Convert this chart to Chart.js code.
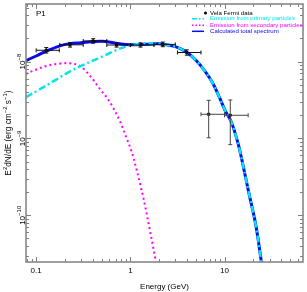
<!DOCTYPE html>
<html>
<head>
<meta charset="utf-8">
<script src="https://cdn.jsdelivr.net/npm/chart.js@4"></script>
<style>
  html, body { margin: 0; padding: 0; background: #fff; }
  canvas { display: block; }
</style>
</head>
<body>
<canvas id="sed" width="307" height="292"></canvas>
<script>
// Vela Fermi data (E in GeV, E^2 dN/dE in erg cm^-2 s^-1)
const dataE    = [0.128, 0.229, 0.403, 0.713, 1.28, 2.21, 3.97, 6.78, 11.5];
const dataF    = [1.40e-8, 1.65e-8, 1.85e-8, 1.64e-8, 1.64e-8, 1.67e-8, 1.31e-8, 2.06e-9, 2.0e-9];
const dataFlo  = [1.29e-8, 1.54e-8, 1.73e-8, 1.54e-8, 1.54e-8, 1.56e-8, 1.21e-8, 1.02e-9, 8.3e-10];
const dataFhi  = [1.52e-8, 1.77e-8, 1.98e-8, 1.75e-8, 1.75e-8, 1.79e-8, 1.42e-8, 3.13e-9, 3.16e-9];
const dataElo  = [0.1, 0.178, 0.316, 0.562, 1.0, 1.78, 3.16, 5.62, 10.0];
const dataEhi  = [0.176, 0.316, 0.562, 1.0, 1.78, 3.0, 5.62, 10.0, 17.8];

// model curves
const totalE = [0.078, 0.1, 0.13, 0.2, 0.3, 0.5, 0.7, 1.0, 1.5, 2.0, 3.0, 4.0, 5.0, 6.1, 7.4, 8.8, 10.3, 11.5, 12.6, 14.3, 18.2, 21.5, 24.6, 26];
const totalF = [1.03e-8, 1.18e-8, 1.38e-8, 1.66e-8, 1.76e-8, 1.84e-8, 1.73e-8, 1.65e-8, 1.68e-8, 1.70e-8, 1.56e-8, 1.31e-8, 1.03e-8, 7.66e-9, 5.37e-9, 3.44e-9, 2.21e-9, 1.75e-9, 1.3e-9, 7.5e-10, 1.9e-10, 7.35e-11, 2.45e-11, 1.5e-11];

const primE = [0.078, 0.11, 0.165, 0.229, 0.292, 0.403, 0.558, 0.771, 1.07, 1.48, 2.0, 3.0, 4.0, 5.0, 6.1, 7.4, 8.8, 10.3, 11.5, 12.6, 14.3, 18.2, 21.5, 24.6, 26];
const primF = [3.45e-9, 4.37e-9, 5.87e-9, 7.44e-9, 8.63e-9, 1.03e-8, 1.23e-8, 1.47e-8, 1.65e-8, 1.73e-8, 1.70e-8, 1.56e-8, 1.31e-8, 1.03e-8, 7.66e-9, 5.37e-9, 3.44e-9, 2.21e-9, 1.75e-9, 1.3e-9, 7.5e-10, 1.9e-10, 7.35e-11, 2.45e-11, 1.5e-11];

const secE = [0.078, 0.0936, 0.13, 0.18, 0.229, 0.292, 0.33, 0.403, 0.474, 0.558, 0.656, 0.771, 0.871, 1.03, 1.16, 1.26, 1.36, 1.48, 1.6, 1.73, 1.84, 1.95];
const secF = [6.9e-9, 7.6e-9, 8.8e-9, 9.4e-9, 9.5e-9, 8.8e-9, 7.7e-9, 5.8e-9, 4.41e-9, 3.44e-9, 2.51e-9, 1.70e-9, 1.17e-9, 6.76e-10, 3.98e-10, 2.65e-10, 1.79e-10, 1.09e-10, 6.67e-11, 4.07e-11, 2.74e-11, 1.7e-11];

// axes
const xMin = 0.078, xMax = 68;
const yMin = 2.47e-11, yMax = 5.6e-8;
const xMajor = [0.1, 1, 10];
const xMajorLabels = ['0.1', '1', '10'];
const yMajor = [1e-10, 1e-9, 1e-8];
const yMajorExp = ['\u221210', '\u22129', '\u22128'];

const FONT = "'Liberation Sans', Arial, sans-serif";
const colors = {
  data: '#000000',
  primary: '#00e5ee',
  secondary: '#ff00ff',
  total: '#0a0aee',
  axis: '#808080',
};

const pts = (xs, ys) => xs.map((x, i) => ({ x, y: ys[i] }));

function minorTicks(lo, hi) {
  const out = [];
  for (let d = Math.floor(Math.log10(lo)); d <= Math.ceil(Math.log10(hi)); d++) {
    for (let m = 1; m <= 9; m++) {
      const v = m * Math.pow(10, d);
      if (v >= lo && v <= hi) out.push({ v, major: m === 1 });
    }
  }
  return out;
}

const framePlugin = {
  id: 'frame',
  afterDatasetsDraw(chart) {
    const { ctx, scales: { x, y } } = chart;

    // error bars
    ctx.save();
    ctx.lineWidth = 1;
    dataE.forEach((e, i) => {
      ctx.strokeStyle = i >= 7 ? '#444' : '#111';
      const px = x.getPixelForValue(e), py = y.getPixelForValue(dataF[i]);
      const x0 = x.getPixelForValue(dataElo[i]), x1 = x.getPixelForValue(dataEhi[i]);
      const y0 = y.getPixelForValue(dataFlo[i]), y1 = y.getPixelForValue(dataFhi[i]);
      ctx.beginPath();
      ctx.moveTo(x0, py); ctx.lineTo(x1, py);
      ctx.moveTo(x0, py - 2); ctx.lineTo(x0, py + 2);
      ctx.moveTo(x1, py - 2); ctx.lineTo(x1, py + 2);
      ctx.moveTo(px, y0); ctx.lineTo(px, y1);
      ctx.moveTo(px - 2, y0); ctx.lineTo(px + 2, y0);
      ctx.moveTo(px - 2, y1); ctx.lineTo(px + 2, y1);
      ctx.stroke();
    });
    ctx.restore();
  },
  afterDraw(chart) {
    const { ctx, chartArea: a, scales: { x, y } } = chart;
    ctx.save();

    // frame
    ctx.strokeStyle = colors.axis;
    ctx.lineWidth = 1.5;
    ctx.strokeRect(a.left, a.top, a.right - a.left, a.bottom - a.top);

    // inward ticks on all four sides
    ctx.lineWidth = 1;
    ctx.beginPath();
    minorTicks(xMin, xMax).forEach(t => {
      const px = Math.round(x.getPixelForValue(t.v)) + 0.5;
      const len = t.major ? 5 : 3;
      ctx.moveTo(px, a.bottom); ctx.lineTo(px, a.bottom - len);
      ctx.moveTo(px, a.top); ctx.lineTo(px, a.top + len);
    });
    minorTicks(yMin, yMax).forEach(t => {
      const py = Math.round(y.getPixelForValue(t.v)) + 0.5;
      const len = t.major ? 5 : 3;
      ctx.moveTo(a.left, py); ctx.lineTo(a.left + len, py);
      ctx.moveTo(a.right, py); ctx.lineTo(a.right - len, py);
    });
    ctx.stroke();

    // x tick labels
    ctx.fillStyle = '#000';
    ctx.font = '8px ' + FONT;
    ctx.textAlign = 'center';
    ctx.textBaseline = 'middle';
    xMajor.forEach((v, i) => ctx.fillText(xMajorLabels[i], x.getPixelForValue(v), 271));

    // y tick labels, rotated
    yMajor.forEach((v, i) => {
      const py = y.getPixelForValue(v);
      ctx.save();
      ctx.translate(24.5, py);
      ctx.rotate(-Math.PI / 2);
      ctx.font = '8px ' + FONT;
      const w1 = ctx.measureText('10').width;
      ctx.font = '6px ' + FONT;
      const w2 = ctx.measureText(yMajorExp[i]).width;
      const start = -(w1 + w2) / 2;
      ctx.textAlign = 'left';
      ctx.textBaseline = 'alphabetic';
      ctx.font = '8px ' + FONT;
      ctx.fillText('10', start, 0);
      ctx.font = '6px ' + FONT;
      ctx.fillText(yMajorExp[i], start + w1, -4);
      ctx.restore();
    });

    // x title
    ctx.font = '8px ' + FONT;
    ctx.textAlign = 'center';
    ctx.textBaseline = 'middle';
    ctx.fillText('Energy (GeV)', (a.left + a.right) / 2, 287);

    // y title
    ctx.save();
    ctx.translate(11, (a.top + a.bottom) / 2);
    ctx.rotate(-Math.PI / 2);
    const parts = [
      ['E', 8.3, 0], ['2', 6, -4], ['dN/dE (erg cm', 8.3, 0], ['\u22122', 6, -4],
      [' s', 8.3, 0], ['\u22121', 6, -4], [')', 8.3, 0],
    ];
    let total = 0;
    parts.forEach(p => { ctx.font = p[1] + 'px ' + FONT; total += ctx.measureText(p[0]).width; });
    let cx = -total / 2;
    ctx.textAlign = 'left';
    ctx.textBaseline = 'alphabetic';
    parts.forEach(p => {
      ctx.font = p[1] + 'px ' + FONT;
      ctx.fillText(p[0], cx, p[2]);
      cx += ctx.measureText(p[0]).width;
    });
    ctx.restore();

    // panel label
    ctx.font = '8px ' + FONT;
    ctx.textAlign = 'left';
    ctx.fillText('P1', 36, 14);

    // legend
    const lx0 = 192, lx1 = 204, tx = 210;
    ctx.font = '6.1px ' + FONT;
    ctx.textBaseline = 'middle';
    ctx.fillStyle = '#000';
    ctx.beginPath(); ctx.arc(205.5, 13, 1.5, 0, Math.PI * 2); ctx.fill();
    ctx.fillText('Vela Fermi data', tx, 13);

    const rows = [
      { y: 18.7, color: colors.primary, dash: [5, 2, 1.5, 2], text: 'Emission from primary particles' },
      { y: 25.3, color: colors.secondary, dash: [1.5, 2], text: 'Emission from secondary particles' },
      { y: 31.3, color: colors.total, dash: [], text: 'Calculated total spectrum' },
    ];
    rows.forEach(r => {
      ctx.strokeStyle = r.color;
      ctx.lineWidth = 1.5;
      ctx.setLineDash(r.dash);
      ctx.beginPath(); ctx.moveTo(lx0, r.y); ctx.lineTo(lx1, r.y); ctx.stroke();
      ctx.setLineDash([]);
      ctx.fillStyle = r.color;
      ctx.fillText(r.text, tx, r.y);
    });
    ctx.restore();
  }
};

function buildChart() {
  const ctx = document.getElementById('sed').getContext('2d');
  new Chart(ctx, {
    type: 'scatter',
    data: {
      datasets: [
        {
          label: 'Vela Fermi data',
          data: pts(dataE, dataF),
          backgroundColor: colors.data,
          borderColor: colors.data,
          pointRadius: 1.8,
          pointBorderWidth: 0,
          showLine: false,
        },
        {
          label: 'Emission from primary particles',
          data: pts(primE, primF),
          borderColor: colors.primary,
          borderWidth: 2.5,
          borderDash: [7, 3, 2, 3],
          pointRadius: 0,
          showLine: true,
          tension: 0.35,
        },
        {
          label: 'Calculated total spectrum',
          data: pts(totalE, totalF),
          borderColor: colors.total,
          borderWidth: 3,
          pointRadius: 0,
          showLine: true,
          tension: 0.35,
        },
        {
          label: 'Emission from secondary particles',
          data: pts(secE, secF),
          borderColor: colors.secondary,
          borderWidth: 2,
          borderDash: [2, 3],
          pointRadius: 0,
          showLine: true,
          tension: 0.35,
        },
      ]
    },
    options: {
      responsive: false,
      animation: false,
      devicePixelRatio: 1,
      layout: { padding: { left: 26, right: 3, top: 1, bottom: 30 } },
      plugins: { legend: { display: false }, tooltip: { enabled: false } },
      scales: {
        x: { type: 'logarithmic', min: xMin, max: xMax, display: false },
        y: { type: 'logarithmic', min: yMin, max: yMax, display: false },
      }
    },
    plugins: [framePlugin]
  });
}

document.addEventListener('DOMContentLoaded', buildChart);
</script>
</body>
</html>
